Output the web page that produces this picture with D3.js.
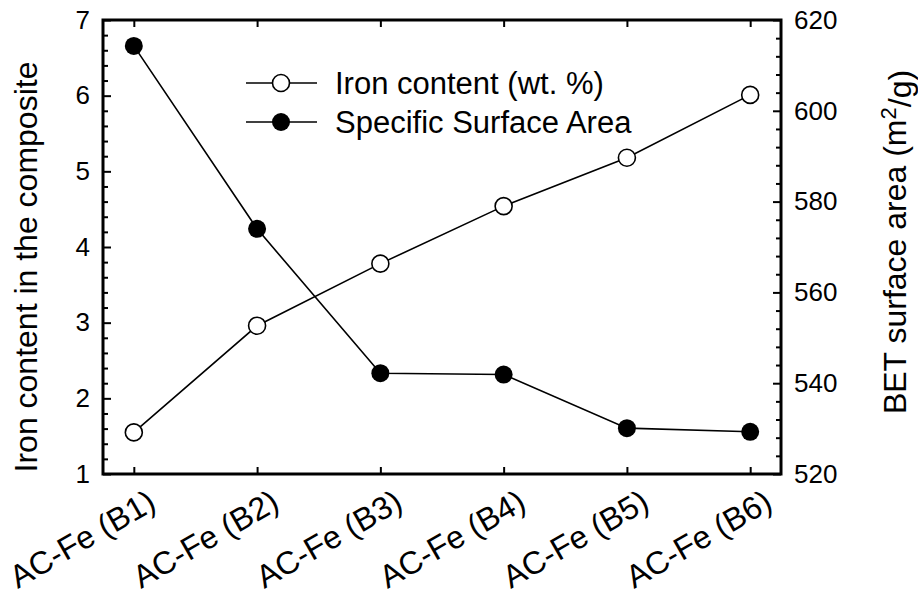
<!DOCTYPE html>
<html>
<head>
<meta charset="utf-8">
<script src="https://cdn.jsdelivr.net/npm/d3@7"></script>
<style>
  html, body { margin: 0; padding: 0; background: #fff; }
  svg { display: block; font-family: Arial, "Liberation Sans", sans-serif; }
</style>
</head>
<body>
<svg id="chart" width="918" height="597"></svg>
<script>
// Samples along the x axis
const samples = ["AC-Fe (B1)", "AC-Fe (B2)", "AC-Fe (B3)", "AC-Fe (B4)", "AC-Fe (B5)", "AC-Fe (B6)"];
// Iron content in the composite (wt. %), left axis
const ironContent = [1.55, 2.96, 3.78, 4.54, 5.18, 6.01];
// BET specific surface area (m2/g), right axis
const surfaceArea = [614.3, 574.0, 542.2, 541.9, 530.1, 529.3];
// Axis tick values
const leftTicks = [1, 2, 3, 4, 5, 6, 7];
const rightTicks = [520, 540, 560, 580, 600, 620];
// Legend entries
const legendLabels = ["Iron content (wt. %)", "Specific Surface Area"];

const svg = d3.select("#chart");
const plot = { left: 103, right: 781, top: 20, bottom: 474 };
const tickFont = 26, titleFont = 32, legendFont = 31, catFont = 32;

const x = d3.scalePoint().domain(samples).range([plot.left, plot.right]).padding(0.25);
const yL = d3.scaleLinear().domain([1, 7]).range([plot.bottom, plot.top]);
const yR = d3.scaleLinear().domain([520, 620]).range([plot.bottom, plot.top]);

// Minor ticks
const leftMinor = d3.range(1, 7.0001, 0.2).filter(v => Math.abs(v - Math.round(v)) > 1e-6);
const rightMinor = d3.range(520, 620.0001, 4).filter(v => v % 20 !== 0);

function styleAxis(g) {
  g.select(".domain").remove();
  g.selectAll(".tick line").attr("stroke", "#000").attr("stroke-width", 2);
  g.selectAll(".tick text").attr("fill", "#000").style("font-size", tickFont + "px")
    .style("font-family", "Arial, 'Liberation Sans', sans-serif");
}

// Left axis (major + minor, ticks pointing inward)
svg.append("g").attr("transform", `translate(${plot.left},0)`)
  .call(d3.axisLeft(yL).tickValues(leftTicks).tickFormat(d3.format("d")).tickSize(-8).tickPadding(13))
  .call(styleAxis);
svg.append("g").attr("transform", `translate(${plot.left},0)`)
  .call(d3.axisLeft(yL).tickValues(leftMinor).tickFormat("").tickSize(-5))
  .call(styleAxis);

// Right axis
svg.append("g").attr("transform", `translate(${plot.right},0)`)
  .call(d3.axisRight(yR).tickValues(rightTicks).tickFormat(d3.format("d")).tickSize(-8).tickPadding(13))
  .call(styleAxis);
svg.append("g").attr("transform", `translate(${plot.right},0)`)
  .call(d3.axisRight(yR).tickValues(rightMinor).tickFormat("").tickSize(-5))
  .call(styleAxis);

// Bottom axis ticks (pointing up) and rotated sample labels
svg.append("g").attr("transform", `translate(0,${plot.bottom})`)
  .call(d3.axisBottom(x).tickSize(-7).tickFormat(""))
  .call(styleAxis);
svg.append("g").selectAll("text").data(samples).join("text")
  .attr("transform", d => `translate(${x(d) + 24},${plot.bottom + 34}) rotate(-30)`)
  .attr("text-anchor", "end")
  .style("font-size", catFont + "px")
  .text(d => d);

// Top axis ticks (pointing down)
svg.append("g").attr("transform", `translate(0,${plot.top})`)
  .call(d3.axisTop(x).tickSize(-7).tickFormat(""))
  .call(styleAxis);

// Frame
svg.append("rect")
  .attr("x", plot.left).attr("y", plot.top)
  .attr("width", plot.right - plot.left).attr("height", plot.bottom - plot.top)
  .attr("fill", "none").attr("stroke", "#000").attr("stroke-width", 3);

// Axis titles
svg.append("text")
  .attr("transform", `translate(37,267) rotate(-90)`)
  .attr("text-anchor", "middle")
  .style("font-size", titleFont + "px")
  .text("Iron content in the composite");

const rt = svg.append("text")
  .attr("transform", `translate(906,242) rotate(-90)`)
  .attr("text-anchor", "middle")
  .style("font-size", titleFont + "px");
rt.append("tspan").text("BET surface area (m");
rt.append("tspan").attr("dy", "-0.45em").style("font-size", "22px").text("2");
rt.append("tspan").attr("dy", "0.45em").text("/g)");

// Series lines
const lineL = d3.line().x((d, i) => x(samples[i])).y(d => yL(d));
const lineR = d3.line().x((d, i) => x(samples[i])).y(d => yR(d));
svg.append("path").datum(surfaceArea).attr("d", lineR)
  .attr("fill", "none").attr("stroke", "#000").attr("stroke-width", 1.6);
svg.append("path").datum(ironContent).attr("d", lineL)
  .attr("fill", "none").attr("stroke", "#000").attr("stroke-width", 1.6);

// Markers
svg.append("g").selectAll("circle").data(surfaceArea).join("circle")
  .attr("cx", (d, i) => x(samples[i])).attr("cy", d => yR(d))
  .attr("r", 9).attr("fill", "#000");
svg.append("g").selectAll("circle").data(ironContent).join("circle")
  .attr("cx", (d, i) => x(samples[i])).attr("cy", d => yL(d))
  .attr("r", 8.5).attr("fill", "#fff").attr("stroke", "#000").attr("stroke-width", 1.6);

// Legend
const legend = svg.append("g");
const legendY = [83, 122];
legendLabels.forEach((label, i) => {
  const g = legend.append("g").attr("transform", `translate(0,${legendY[i]})`);
  g.append("line").attr("x1", 246).attr("x2", 317).attr("y1", 0).attr("y2", 0)
    .attr("stroke", "#000").attr("stroke-width", 1.6);
  g.append("circle").attr("cx", 281).attr("cy", 0)
    .attr("r", i === 0 ? 8.5 : 9)
    .attr("fill", i === 0 ? "#fff" : "#000")
    .attr("stroke", i === 0 ? "#000" : "none").attr("stroke-width", 1.6);
  g.append("text").attr("x", 335).attr("y", 0).attr("dy", "0.35em")
    .style("font-size", legendFont + "px").text(label);
});
</script>
</body>
</html>
